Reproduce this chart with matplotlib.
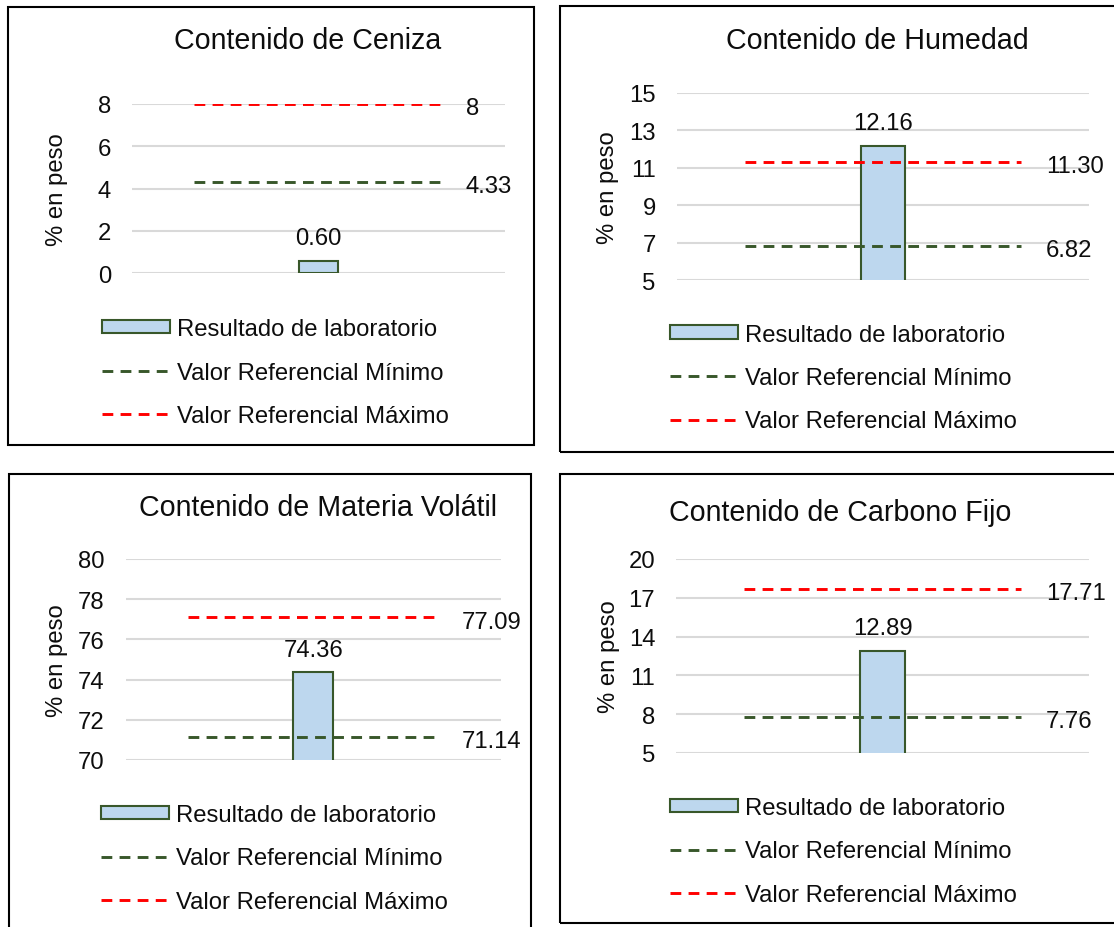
import matplotlib
matplotlib.use("Agg")
import matplotlib.pyplot as plt
from matplotlib.patches import Rectangle

plt.rcParams['font.family'] = ['Liberation Sans', 'DejaVu Sans']

W, H = 1114, 928

# data
titles = ["Contenido de Ceniza", "Contenido de Humedad",
          "Contenido de Materia Volátil", "Contenido de Carbono Fijo"]
resultado = [0.60, 12.16, 74.36, 12.89]
ref_min = [4.33, 6.82, 71.14, 7.76]
ref_max = [8, 11.30, 77.09, 17.71]
max_labels = ["8", "11.30", "77.09", "17.71"]
min_labels = ["4.33", "6.82", "71.14", "7.76"]
res_labels = ["0.60", "12.16", "74.36", "12.89"]
y_ticks = [[0, 2, 4, 6, 8], [5, 7, 9, 11, 13, 15],
           [70, 72, 74, 76, 78, 80], [5, 8, 11, 14, 17, 20]]
legend_labels = ["Resultado de laboratorio", "Valor Referencial Mínimo",
                 "Valor Referencial Máximo"]

# layout in pixels (top-left origin)
boxes = [(8, 8, 534, 446), (560, 7, 1125, 453), (8.5, 475, 531, 940), (560, 475, 1125, 924)]
axes_px = [(132, 104.7, 505, 274.3), (676.6, 94, 1089, 281),
           (125.7, 560, 501, 761), (676, 560, 1089, 754)]
title_xy = [(308, 41), (877, 41), (318, 508), (840, 513)]
ylabel_x = [57, 608, 57, 609]
legend_xy = [(102, 373.5), (670, 379), (101, 859.5), (670, 852.5)]

fs = 17.2
fs_title = 20.6
txt = "#0d0d0d"
bar_fc = "#BDD7EE"
green = "#38572A"
red = "#FF0000"
grid_c = "#D9D9D9"
lw_ref = 2.1
dash = (0, (3.7, 2.5))


def px2fig(x0, y0, x1, y1):
    return [x0 / W, 1 - y1 / H, (x1 - x0) / W, (y1 - y0) / H]


fig = plt.figure(figsize=(W / 100, H / 100), dpi=100)

for i in range(4):
    # panel border
    b = px2fig(*boxes[i])
    fig.patches.append(Rectangle((b[0], b[1]), b[2], b[3], transform=fig.transFigure,
                                 fill=False, ec="black", lw=1.5, zorder=0))
    fig.text(title_xy[i][0] / W, 1 - title_xy[i][1] / H, titles[i], fontsize=fs_title,
             color=txt, ha="center", va="center")

    ax = fig.add_axes(px2fig(*axes_px[i]))
    yt = y_ticks[i]
    bars = ax.bar([0], [resultado[i]], width=0.107, color=bar_fc, edgecolor=green, lw=1.5,
                  zorder=2)
    l_min, = ax.plot([-0.335, 0.335], [ref_min[i], ref_min[i]], color=green, lw=lw_ref,
                     ls=dash, zorder=3)
    l_max, = ax.plot([-0.335, 0.335], [ref_max[i], ref_max[i]], color=red, lw=lw_ref,
                     ls=dash, zorder=3)

    ax.annotate(res_labels[i], (0, resultado[i]), xytext=(0, 12), textcoords="offset points",
                ha="center", va="baseline", fontsize=fs, color=txt)
    for v, s in [(ref_min[i], min_labels[i]), (ref_max[i], max_labels[i])]:
        ax.annotate(s, (0.395, v), xytext=(0, -7.3), textcoords="offset points",
                    ha="left", va="baseline", fontsize=fs, color=txt, annotation_clip=False)

    ax.set_xlim(-0.5, 0.5)
    ax.set_ylim(yt[0], yt[-1])
    ax.set_yticks(yt)
    ax.set_xticks([])
    ax.yaxis.grid(True, color=grid_c, lw=1.5, zorder=0)
    ax.set_axisbelow(True)
    for sp in ax.spines.values():
        sp.set_visible(False)
    ax.tick_params(axis="y", length=0, pad=15, labelsize=fs, labelcolor=txt)
    ax.set_ylabel("% en peso", fontsize=fs, color=txt, va="center")
    ax0 = axes_px[i][0]
    ax.yaxis.set_label_coords((ylabel_x[i] - ax0) / (axes_px[i][2] - ax0), 0.5)

    lx, ly = legend_xy[i]
    ax.legend([bars, l_min, l_max], legend_labels,
              loc="center left", bbox_to_anchor=(lx / W, 1 - ly / H),
              bbox_transform=fig.transFigure, frameon=False, fontsize=fs,
              borderpad=0, borderaxespad=0, labelspacing=0.9,
              handlelength=2.85, handleheight=0.52, handletextpad=0.31,
              labelcolor=txt)

fig.savefig("out.png", dpi=100)
